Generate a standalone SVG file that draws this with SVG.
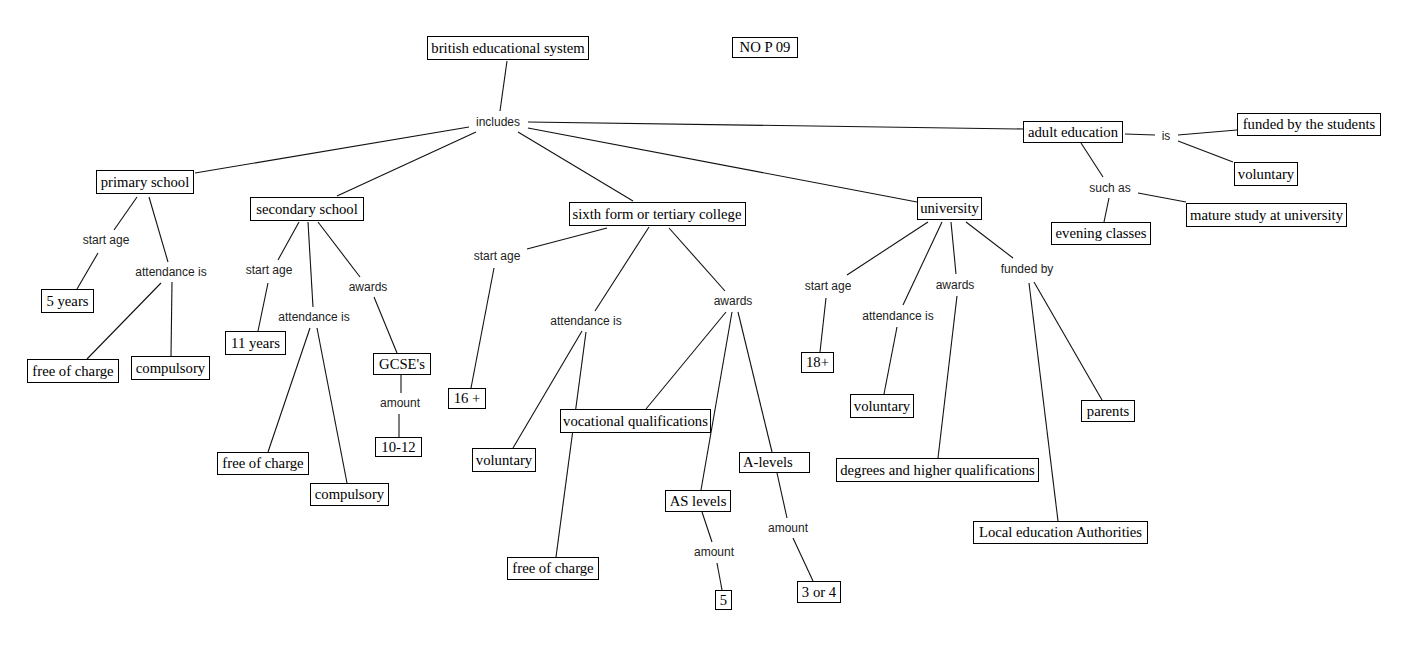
<svg xmlns="http://www.w3.org/2000/svg" width="1425" height="650" viewBox="0 0 1425 650">
<style>
.bg{fill:#fff}
.c line{stroke:#111;stroke-width:1.1;fill:none}
.n rect{fill:#fff;stroke:#000;stroke-width:1}
.n text{font-family:"Liberation Serif","Times New Roman",serif;font-size:14.7px;fill:#000;text-anchor:middle}
.l text{font-family:"Liberation Sans",Arial,sans-serif;font-size:12px;fill:#222;text-anchor:middle}
</style>
<rect class="bg" x="0" y="0" width="1425" height="650"/>
<g id="connectors" class="c">
<line x1="507" y1="61" x2="500" y2="111"/>
<line x1="469" y1="127" x2="195" y2="173"/>
<line x1="476" y1="132" x2="337" y2="196"/>
<line x1="518" y1="132" x2="633" y2="201"/>
<line x1="528" y1="128" x2="917" y2="202"/>
<line x1="528" y1="122" x2="1023" y2="129"/>
<line x1="1125" y1="134" x2="1155" y2="135"/>
<line x1="1178" y1="135" x2="1237" y2="130"/>
<line x1="1178" y1="141" x2="1233" y2="162"/>
<line x1="1081" y1="143" x2="1103" y2="177"/>
<line x1="1109" y1="198" x2="1104" y2="222"/>
<line x1="1138" y1="193" x2="1186" y2="202"/>
<line x1="137" y1="197" x2="114" y2="230"/>
<line x1="98" y1="253" x2="77" y2="289"/>
<line x1="149" y1="197" x2="168" y2="262"/>
<line x1="161" y1="283" x2="87" y2="359"/>
<line x1="172" y1="282" x2="171" y2="356"/>
<line x1="299" y1="222" x2="278" y2="260"/>
<line x1="268" y1="283" x2="258" y2="331"/>
<line x1="308" y1="222" x2="313" y2="307"/>
<line x1="310" y1="328" x2="268" y2="452"/>
<line x1="317" y1="328" x2="347" y2="483"/>
<line x1="318" y1="222" x2="360" y2="277"/>
<line x1="374" y1="297" x2="397" y2="353"/>
<line x1="401" y1="375" x2="401" y2="393"/>
<line x1="399" y1="414" x2="399" y2="437"/>
<line x1="607" y1="228" x2="527" y2="249"/>
<line x1="494" y1="268" x2="471" y2="388"/>
<line x1="649" y1="227" x2="595" y2="311"/>
<line x1="582" y1="331" x2="513" y2="448"/>
<line x1="586" y1="332" x2="556" y2="557"/>
<line x1="669" y1="228" x2="725" y2="291"/>
<line x1="726" y1="312" x2="646" y2="409"/>
<line x1="732" y1="312" x2="701" y2="490"/>
<line x1="738" y1="312" x2="772" y2="452"/>
<line x1="702" y1="512" x2="712" y2="542"/>
<line x1="717" y1="563" x2="722" y2="590"/>
<line x1="777" y1="473" x2="787" y2="518"/>
<line x1="793" y1="538" x2="813" y2="581"/>
<line x1="928" y1="222" x2="847" y2="275"/>
<line x1="826" y1="298" x2="820" y2="352"/>
<line x1="942" y1="222" x2="903" y2="305"/>
<line x1="897" y1="327" x2="884" y2="394"/>
<line x1="951" y1="222" x2="956" y2="274"/>
<line x1="957" y1="296" x2="938" y2="458"/>
<line x1="966" y1="222" x2="1013" y2="258"/>
<line x1="1029" y1="283" x2="1058" y2="521"/>
<line x1="1034" y1="282" x2="1102" y2="400"/>
</g>
<g id="l-includes" class="l"><text x="498" y="126">includes</text></g>
<g id="l-is" class="l"><text x="1166" y="140">is</text></g>
<g id="l-suchas" class="l"><text x="1110" y="192">such as</text></g>
<g id="l-p-start" class="l"><text x="106" y="244">start age</text></g>
<g id="l-p-att" class="l"><text x="171" y="276">attendance is</text></g>
<g id="l-s-start" class="l"><text x="269" y="274">start age</text></g>
<g id="l-s-att" class="l"><text x="314" y="321">attendance is</text></g>
<g id="l-s-awards" class="l"><text x="368" y="291">awards</text></g>
<g id="l-s-amount" class="l"><text x="400" y="407">amount</text></g>
<g id="l-t-start" class="l"><text x="497" y="260">start age</text></g>
<g id="l-t-att" class="l"><text x="586" y="325">attendance is</text></g>
<g id="l-t-awards" class="l"><text x="733" y="305">awards</text></g>
<g id="l-as-amount" class="l"><text x="714" y="556">amount</text></g>
<g id="l-a-amount" class="l"><text x="788" y="532">amount</text></g>
<g id="l-u-start" class="l"><text x="828" y="290">start age</text></g>
<g id="l-u-att" class="l"><text x="898" y="320">attendance is</text></g>
<g id="l-u-awards" class="l"><text x="955" y="289">awards</text></g>
<g id="l-u-funded" class="l"><text x="1027" y="273">funded by</text></g>
<g id="n-british" class="n"><rect x="427.5" y="36.5" width="161" height="23"/><text x="508" y="53">british educational system</text></g>
<g id="n-nop" class="n"><rect x="732.5" y="37.5" width="65" height="20"/><text x="765" y="52">NO P 09</text></g>
<g id="n-primary" class="n"><rect x="96.5" y="170.5" width="97" height="23"/><text x="145" y="187">primary school</text></g>
<g id="n-secondary" class="n"><rect x="250.5" y="197.5" width="113" height="23"/><text x="307" y="214">secondary school</text></g>
<g id="n-sixth" class="n"><rect x="569.5" y="202.5" width="176" height="23"/><text x="657" y="219">sixth form or tertiary college</text></g>
<g id="n-university" class="n"><rect x="917.5" y="197.5" width="64" height="22"/><text x="949.5" y="213">university</text></g>
<g id="n-adult" class="n"><rect x="1023.5" y="121.5" width="99" height="21"/><text x="1073" y="137">adult education</text></g>
<g id="n-fundedstudents" class="n"><rect x="1237.5" y="113.5" width="143" height="22"/><text x="1309" y="129">funded by the students</text></g>
<g id="n-a-voluntary" class="n"><rect x="1234.5" y="162.5" width="63" height="23"/><text x="1266" y="179">voluntary</text></g>
<g id="n-evening" class="n"><rect x="1051.5" y="222.5" width="99" height="22"/><text x="1101" y="238">evening classes</text></g>
<g id="n-mature" class="n"><rect x="1186.5" y="203.5" width="160" height="23"/><text x="1266.5" y="220">mature study at university</text></g>
<g id="n-5years" class="n"><rect x="41.5" y="289.5" width="52" height="23"/><text x="67.5" y="306">5 years</text></g>
<g id="n-p-free" class="n"><rect x="27.5" y="359.5" width="91" height="23"/><text x="73" y="376">free of charge</text></g>
<g id="n-p-comp" class="n"><rect x="131.5" y="356.5" width="78" height="23"/><text x="170.5" y="373">compulsory</text></g>
<g id="n-11years" class="n"><rect x="225.5" y="331.5" width="60" height="23"/><text x="255.5" y="348">11 years</text></g>
<g id="n-s-free" class="n"><rect x="217.5" y="452.5" width="91" height="22"/><text x="263" y="468">free of charge</text></g>
<g id="n-s-comp" class="n"><rect x="310.5" y="483.5" width="78" height="22"/><text x="349.5" y="499">compulsory</text></g>
<g id="n-gcse" class="n"><rect x="373.5" y="353.5" width="57" height="21"/><text x="402" y="369">GCSE's</text></g>
<g id="n-1012" class="n"><rect x="375.5" y="437.5" width="46" height="19"/><text x="398.5" y="452">10-12</text></g>
<g id="n-16" class="n"><rect x="448.5" y="388.5" width="37" height="20"/><text x="467" y="403">16 +</text></g>
<g id="n-t-vol" class="n"><rect x="472.5" y="448.5" width="63" height="23"/><text x="504" y="465">voluntary</text></g>
<g id="n-t-free" class="n"><rect x="507.5" y="557.5" width="91" height="22"/><text x="553" y="573">free of charge</text></g>
<g id="n-vocational" class="n"><rect x="560.5" y="409.5" width="150" height="23"/><text x="635.5" y="426">vocational qualifications</text></g>
<g id="n-aslevels" class="n"><rect x="665.5" y="490.5" width="65" height="21"/><text x="698" y="506">AS levels</text></g>
<g id="n-alevels" class="n"><rect x="739.5" y="452.5" width="70" height="20"/><text x="743" y="467" style="text-anchor:start">A-levels</text></g>
<g id="n-5" class="n"><rect x="715.5" y="590.5" width="16" height="19"/><text x="723.5" y="605">5</text></g>
<g id="n-3or4" class="n"><rect x="797.5" y="581.5" width="43" height="21"/><text x="819" y="597">3 or 4</text></g>
<g id="n-18" class="n"><rect x="801.5" y="352.5" width="32" height="20"/><text x="817.5" y="367">18+</text></g>
<g id="n-u-vol" class="n"><rect x="850.5" y="394.5" width="63" height="23"/><text x="882" y="411">voluntary</text></g>
<g id="n-degrees" class="n"><rect x="836.5" y="458.5" width="202" height="23"/><text x="937.5" y="475">degrees and higher qualifications</text></g>
<g id="n-local" class="n"><rect x="973.5" y="521.5" width="174" height="22"/><text x="1060.5" y="537">Local education Authorities</text></g>
<g id="n-parents" class="n"><rect x="1081.5" y="400.5" width="53" height="21"/><text x="1108" y="416">parents</text></g>
</svg>
